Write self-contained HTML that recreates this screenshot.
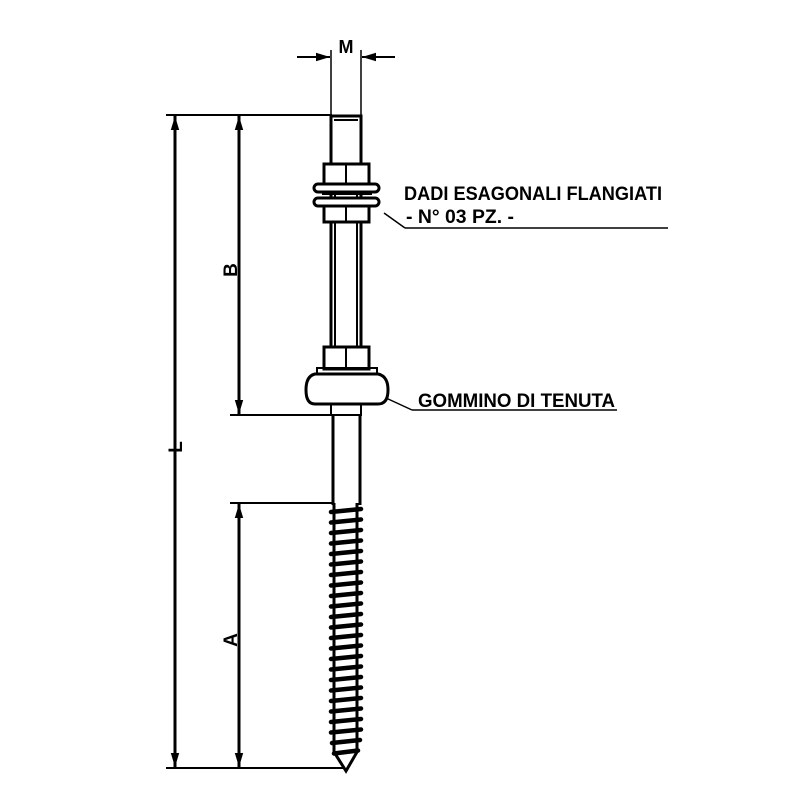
<!DOCTYPE html>
<html><head><meta charset="utf-8"><style>body{margin:0;background:#fff}svg{display:block}</style></head>
<body>
<svg width="800" height="800" viewBox="0 0 800 800" xmlns="http://www.w3.org/2000/svg" font-family="Liberation Sans, sans-serif">
<defs>
<marker id="a" viewBox="0 0 10 10" refX="10" refY="5" markerWidth="14" markerHeight="14" orient="auto-start-reverse" markerUnits="userSpaceOnUse"><path d="M0,2 L10,5 L0,8Z" fill="#000"/></marker>
</defs>
<g stroke="#000" fill="none" stroke-width="2">
<line x1="166" y1="115" x2="332" y2="115"/>
<line x1="230" y1="415" x2="333" y2="415"/>
<line x1="230" y1="503" x2="333" y2="503"/>
<line x1="166" y1="768" x2="345" y2="768"/>
<line x1="331" y1="50" x2="331" y2="115" stroke-width="1.5"/>
<line x1="361" y1="50" x2="361" y2="115" stroke-width="1.5"/>
<line x1="175" y1="116" x2="175" y2="767" stroke-width="3" marker-start="url(#a)" marker-end="url(#a)"/>
<line x1="239" y1="116" x2="239" y2="414" stroke-width="3" marker-start="url(#a)" marker-end="url(#a)"/>
<line x1="239" y1="504" x2="239" y2="767" stroke-width="3" marker-start="url(#a)" marker-end="url(#a)"/>
<line x1="297" y1="57" x2="330" y2="57" marker-end="url(#a)"/>
<line x1="395" y1="57" x2="362" y2="57" marker-end="url(#a)"/>
<rect x="331" y="116" width="30" height="52" stroke-width="3"/>
<line x1="334" y1="120" x2="358" y2="120" stroke-width="2"/>
<line x1="335" y1="168" x2="335" y2="350" stroke-width="2"/>
<line x1="357" y1="168" x2="357" y2="350" stroke-width="2"/>
<line x1="331" y1="168" x2="331" y2="350" stroke-width="3"/>
<line x1="361" y1="168" x2="361" y2="350" stroke-width="3"/>
<rect x="324" y="164" width="45" height="20" stroke-width="3" fill="#fff"/>
<line x1="346" y1="164" x2="346" y2="184"/>
<rect x="314" y="184" width="65" height="8" rx="4" stroke-width="3" fill="#fff"/>
<rect x="314" y="198" width="65" height="8" rx="4" stroke-width="3" fill="#fff"/>
<line x1="322" y1="194" x2="372" y2="194"/>
<rect x="324" y="206" width="45" height="16" stroke-width="3" fill="#fff"/>
<line x1="346" y1="206" x2="346" y2="222"/>
<rect x="324" y="347" width="45" height="22" stroke-width="3" fill="#fff"/>
<line x1="346" y1="347" x2="346" y2="369"/>
<rect x="317" y="368" width="60" height="6" stroke-width="2"/>
<path d="M315,374 H378 Q388,376 388,390 Q388,404 378,404 H315 Q306,404 306,390 Q306,376 315,374Z" stroke-width="3"/>
<rect x="331" y="404" width="30" height="11" stroke-width="2"/>
<line x1="333" y1="415" x2="333" y2="505" stroke-width="3"/>
<line x1="360" y1="415" x2="360" y2="505" stroke-width="3"/>
<path d="M334,503 L334,752 L346,771 L357,752 L357,503" stroke-width="3"/>
</g>
<path stroke="#000" stroke-width="4.5" stroke-linecap="round" fill="none" d="M331,512 L361,509 M331,522.5 L361,519.5 M331,533 L361,530 M331,543.5 L361,540.5 M331,554 L361,551 M331,564.5 L361,561.5 M331,575 L361,572 M331,585.5 L361,582.5 M331,596 L361,593 M331,606.5 L361,603.5 M331,617 L361,614 M331,627.5 L361,624.5 M331,638 L361,635 M331,648.5 L361,645.5 M331,659 L361,656 M331,669.5 L361,666.5 M331,680 L361,677 M331,690.5 L361,687.5 M331,701 L361,698 M331,711.5 L361,708.5 M331,722 L361,719 M331,732.5 L361,729.5 M332,743 L360,740 M334,753.5 L358,750.5"/>
<g stroke="#000" stroke-width="1.5">
<line x1="384" y1="213" x2="405" y2="228"/>
<line x1="405" y1="228" x2="668" y2="228"/>
<line x1="386" y1="398" x2="412" y2="410"/>
<line x1="412" y1="410" x2="617" y2="410"/>
</g>
<g font-weight="bold" fill="#000">
<text x="346" y="53" font-size="18" text-anchor="middle">M</text>
<text transform="translate(237,270) rotate(-90)" font-size="19" text-anchor="middle">B</text>
<text transform="translate(182,447) rotate(-90)" font-size="19" text-anchor="middle">L</text>
<text transform="translate(237,640) rotate(-90)" font-size="19" text-anchor="middle">A</text>
</g>
<g fill="#000" font-size="19" font-weight="bold">
<text x="404" y="200" textLength="258" lengthAdjust="spacingAndGlyphs">DADI ESAGONALI FLANGIATI</text>
<text x="406" y="223" textLength="108" lengthAdjust="spacingAndGlyphs">- N° 03 PZ. -</text>
<text x="418" y="407" textLength="197" lengthAdjust="spacingAndGlyphs">GOMMINO DI TENUTA</text>
</g>
</svg>
</body></html>
